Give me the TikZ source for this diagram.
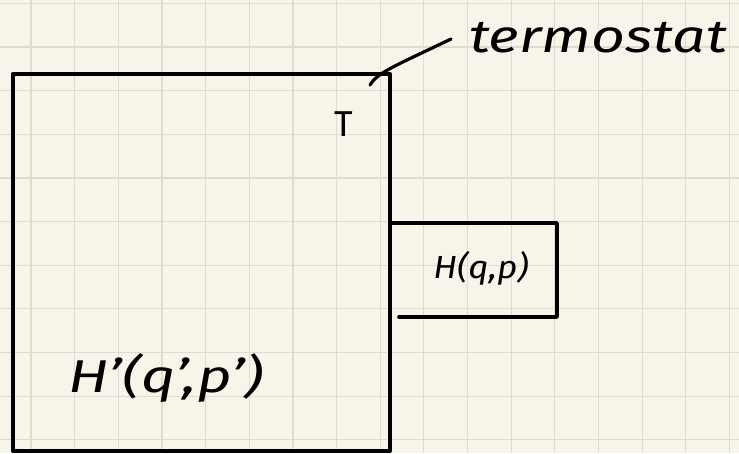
\documentclass[tikz,border=0pt]{standalone}
\usepackage{graphicx}
\usepackage{fontspec}
\setmainfont{Fira Sans}
\definecolor{paper}{HTML}{F7F5EA}
\definecolor{gridc}{HTML}{DEDBD0}
\begin{document}
\begin{tikzpicture}[x=1pt,y=-1pt,
  ink/.style={line width=3.6pt,black,line cap=round,line join=round},
  lbl/.style={inner sep=0pt,anchor=center,text=black}]
\useasboundingbox (0,0) rectangle (739,453);
\fill[paper] (0,0) rectangle (739,453);
% grid
\foreach \i in {0,...,16} {\draw[gridc,line width=1.2pt] ({31+43.65*\i},0) -- ({31+43.65*\i},453);}
\foreach \j in {0,...,10} {\draw[gridc,line width=1.2pt] (0,{3.3+43.65*\j}) -- (739,{3.3+43.65*\j});}
% big box
\node[draw,ink,minimum width=377pt,minimum height=377pt,anchor=north west,inner sep=0pt] (big) at (11,72) {};
% small box
\coordinate (s1) at (390,223);
\coordinate (s2) at (557,223);
\coordinate (s3) at (557,317);
\coordinate (s4) at (399,317);
\draw[ink] (s1) -- (s2) -- (s3) -- (s4);
% thermostat pointer
\node[lbl] (term) at (598,38) {\scalebox{1.28}[1]{\fontsize{46}{46}\selectfont\itshape termostat}};
\coordinate (p0) at (370,85);
\coordinate (p1) at (451,39);
\draw[ink,line width=3.2pt] (p0) .. controls (378,72) and (395,66) .. (p1);
% labels
\node[lbl] (T) at (344,124) {\fontsize{36}{36}\selectfont T};
\node[lbl] (H) at (481,268) {\scalebox{1.1}[1]{\fontsize{32}{32}\selectfont\itshape H(q,p)}};
\node[lbl] (Hp) at (166,378) {\scalebox{1.3}[1]{\fontsize{46}{46}\selectfont\itshape H'(q',p')}};
\end{tikzpicture}
\end{document}
